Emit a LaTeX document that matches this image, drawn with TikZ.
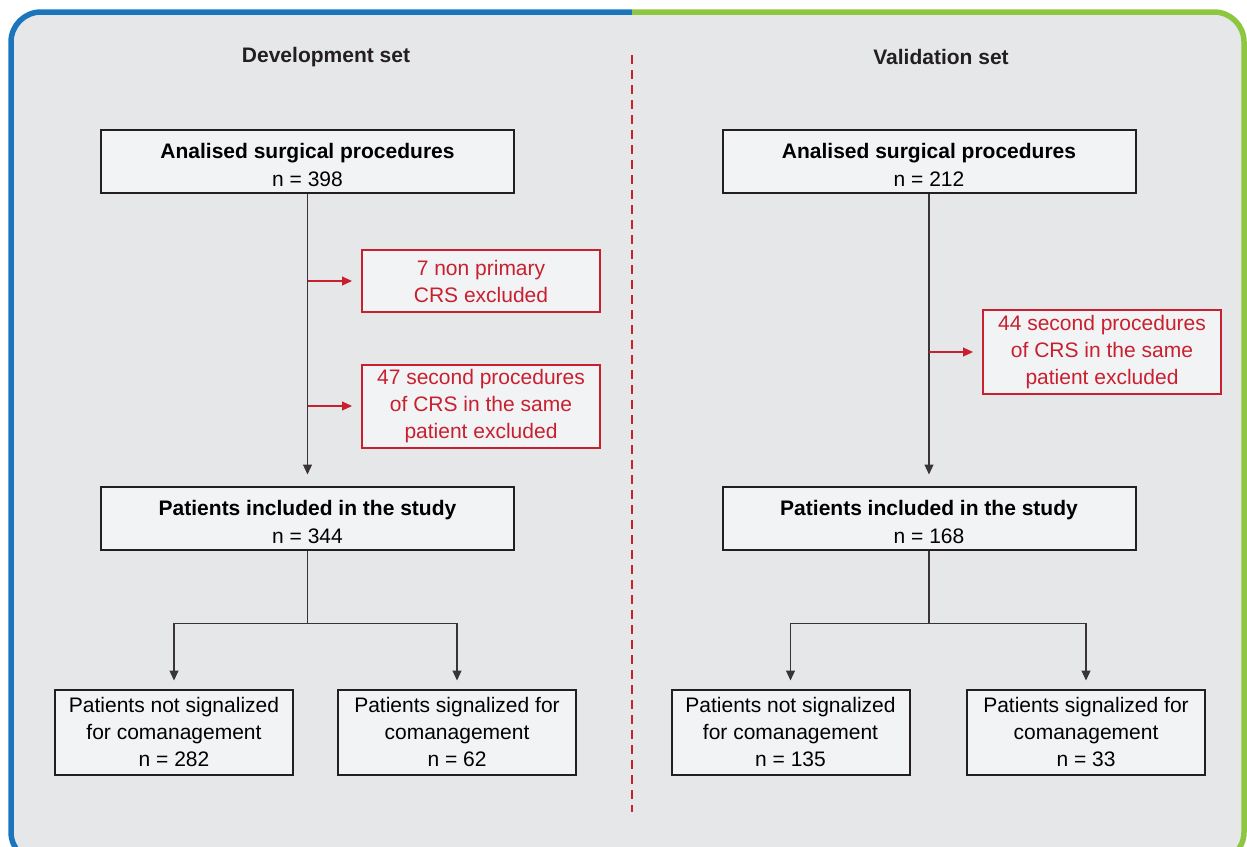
\documentclass[tikz,border=0pt]{standalone}
\usepackage{fontspec}
\setmainfont{Liberation Sans}
\usepackage{xcolor}
\usepackage{tikz}
\usetikzlibrary{shapes,arrows,positioning,calc,arrows.meta}
\definecolor{frameblue}{HTML}{1B75BC}
\definecolor{framegreen}{HTML}{8DC63F}
\definecolor{exred}{HTML}{C8202F}
\definecolor{panelgray}{HTML}{E6E7E9}
\definecolor{boxgray}{HTML}{F2F3F5}
\definecolor{linedark}{HTML}{231F20}
\newcommand{\headline}[1]{\rule{0pt}{23pt}\textbf{#1}}

\begin{document}
\begin{tikzpicture}[x=1pt, y=-1pt,
    mainbox/.style={rectangle, draw=linedark, line width=2pt, fill=boxgray, align=center, minimum width=413pt, minimum height=63pt, inner sep=0pt, font=\fontsize{21}{28}\selectfont},
    endbox/.style={rectangle, draw=linedark, line width=2pt, fill=boxgray, align=center, minimum width=238pt, minimum height=85pt, inner sep=0pt, font=\fontsize{21}{27}\selectfont},
    exbox/.style={rectangle, draw=exred, line width=2pt, fill=boxgray, text=exred, align=center, minimum width=238pt, inner sep=0pt, font=\fontsize{21}{27}\selectfont},
    settitle/.style={font=\fontsize{21}{27}\selectfont\bfseries, text=linedark},
    flow/.style={draw=linedark!90, line width=1.1pt, -{Triangle[length=10pt,width=9pt]}},
    exflow/.style={draw=exred, line width=1.1pt, -{Triangle[length=10pt,width=9pt]}, shorten >=9pt}]
    \useasboundingbox (0,0) rectangle (1247,846);
    % panel and two-colour frame
    \begin{scope}
        \clip (0,0) rectangle (1247,846);
        \fill[panelgray, rounded corners=30pt] (11,12) rectangle (1244,862);
        \begin{scope}
            \clip (0,0) rectangle (632,846);
            \draw[frameblue, line width=5.5pt, rounded corners=30pt] (11,12) rectangle (1244,862);
        \end{scope}
        \begin{scope}
            \clip (632,0) rectangle (1247,846);
            \draw[framegreen, line width=5.5pt, rounded corners=30pt] (11,12) rectangle (1244,862);
        \end{scope}
    \end{scope}
    \draw[exred, line width=1.8pt, dash pattern=on 9pt off 6pt] (632,55) -- (632,812);

    % development set
    \node[settitle] (devtitle) at (326,57) {Development set};
    \node[mainbox] (devall) at (307.5,161) {\headline{Analised surgical procedures}\\n = 398};
    \node[exbox, minimum height=62pt] (devnonprim) at (481,281) {7 non primary\\CRS excluded};
    \node[exbox, minimum height=83pt] (devsecond) at (481,406) {47 second procedures\\of CRS in the same\\patient excluded};
    \node[mainbox] (devincl) at (307.5,518) {\headline{Patients included in the study}\\n = 344};
    \node[endbox] (devnot) at (174,732) {Patients not signalized\\for comanagement\\n = 282};
    \node[endbox] (devsig) at (457,732) {Patients signalized for\\comanagement\\n = 62};
    \coordinate (devsplit) at ($(devincl.south)+(0,73)$);
    \draw[flow, shorten >=11pt] (devall) -- (devincl);
    \draw[exflow] (devall.south |- devnonprim.west) -- (devnonprim.west);
    \draw[exflow] (devall.south |- devsecond.west) -- (devsecond.west);
    \draw[linedark!90, line width=1.1pt] (devincl.south) -- (devsplit);
    \draw[flow, shorten >=8pt] (devsplit) -| (devnot.north);
    \draw[flow, shorten >=8pt] (devsplit) -| (devsig.north);

    % validation set
    \node[settitle] (valtitle) at (941,57) {Validation set};
    \node[mainbox] (valall) at (929,161) {\headline{Analised surgical procedures}\\n = 212};
    \node[exbox, minimum height=84pt] (valsecond) at (1102,352) {44 second procedures\\of CRS in the same\\patient excluded};
    \node[mainbox] (valincl) at (929,518) {\headline{Patients included in the study}\\n = 168};
    \node[endbox] (valnot) at (790.5,732) {Patients not signalized\\for comanagement\\n = 135};
    \node[endbox] (valsig) at (1086,732) {Patients signalized for\\comanagement\\n = 33};
    \coordinate (valsplit) at ($(valincl.south)+(0,73)$);
    \draw[flow, shorten >=11pt] (valall) -- (valincl);
    \draw[exflow] (valall.south |- valsecond.west) -- (valsecond.west);
    \draw[linedark!90, line width=1.1pt] (valincl.south) -- (valsplit);
    \draw[flow, shorten >=8pt] (valsplit) -| (valnot.north);
    \draw[flow, shorten >=8pt] (valsplit) -| (valsig.north);
\end{tikzpicture}
\end{document}
